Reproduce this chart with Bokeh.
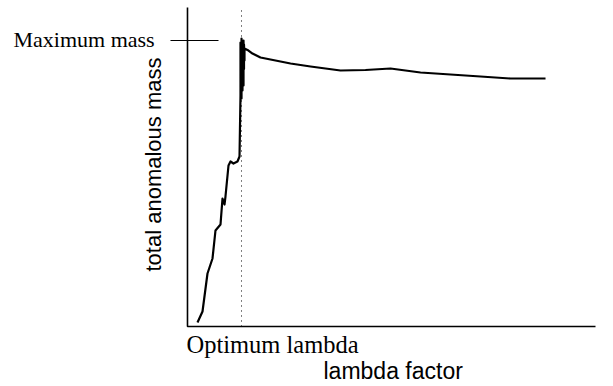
import math
from bokeh.plotting import figure
from bokeh.models import Label, Range1d
from bokeh.embed import file_html
from bokeh.resources import INLINE

# ---- data (lambda factor, total anomalous mass; max mass = 100) ----
lam = [2.45, 3.68, 4.90, 6.13, 6.86, 8.09, 8.58, 9.07, 9.31, 10.05, 10.54, 11.27,
       12.25, 12.75, 12.99, 12.99, 13.11, 13.11, 13.24, 13.24, 13.36, 13.36, 13.48,
       13.48, 13.60, 13.60, 13.73, 13.73, 13.85, 13.85, 13.97, 13.97,
       14.95, 15.93, 17.89, 20.34, 25.25, 30.15, 37.50, 43.63, 49.75, 57.11,
       64.46, 71.81, 79.17, 87.75]
mass = [1.40, 5.24, 18.53, 23.78, 33.57, 35.66, 44.76, 42.66, 45.45, 56.29, 57.69, 56.99,
        57.69, 59.44, 80.77, 99.30, 83.00, 98.60, 79.72, 100.70, 86.00, 99.50, 82.52,
        98.25, 88.00, 99.00, 84.27, 100.0, 90.00, 98.60, 93.01, 97.20,
        96.50, 95.45, 94.06, 93.36, 91.96, 90.91, 89.51, 89.69, 90.21, 88.81,
        88.11, 87.41, 86.71, 86.71]
optimum_lambda = 13.24
maximum_mass = 100.0
x_axis_end = 100.0
y_axis_top = 111.5

x_label = "lambda factor"
y_label = "total anomalous mass"
max_label = "Maximum mass"
opt_label = "Optimum lambda"

W, H = 613, 386
p = figure(width=W, height=H, output_backend="svg", toolbar_location=None,
           x_axis_location=None, y_axis_location=None, min_border=0,
           x_range=Range1d(-45.83, 104.41), y_range=Range1d(-20.98, 113.99))
p.outline_line_color = None
p.grid.visible = False
p.background_fill_color = "white"
p.border_fill_color = "white"

# axes
p.line([0, 0, x_axis_end], [y_axis_top, 0, 0], line_color="black", line_width=1.6)
# maximum mass tick
p.line([-4.17, 7.60], [maximum_mass, maximum_mass], line_color="black", line_width=1.2)
# optimum lambda dotted line
p.line([optimum_lambda, optimum_lambda], [0, 110.5], line_color="black",
       line_width=1, line_dash="1 4")
# curve
p.line(lam, mass, line_color="black", line_width=2.2, line_join="round")

serif = "Liberation Serif"
sans = "Liberation Sans"
p.add_layout(Label(x=-42.65, y=100.4, text=max_label, text_font=serif,
                   text_font_size="22px", text_color="black", text_baseline="alphabetic"))
p.add_layout(Label(x=-0.25, y=-6.3, text=opt_label, text_font=serif,
                   text_font_size="24.5px", text_color="black", text_baseline="alphabetic"))
p.add_layout(Label(x=33.33, y=-15.7, text=x_label, text_font=sans,
                   text_font_size="23px", text_color="black", text_baseline="alphabetic"))
p.add_layout(Label(x=-8.33, y=56.64, text=y_label, text_font=sans,
                   text_font_size="22px", text_color="black", angle=math.pi / 2,
                   text_align="center", text_baseline="middle"))

open("out.html", "w").write(file_html(p, INLINE))
